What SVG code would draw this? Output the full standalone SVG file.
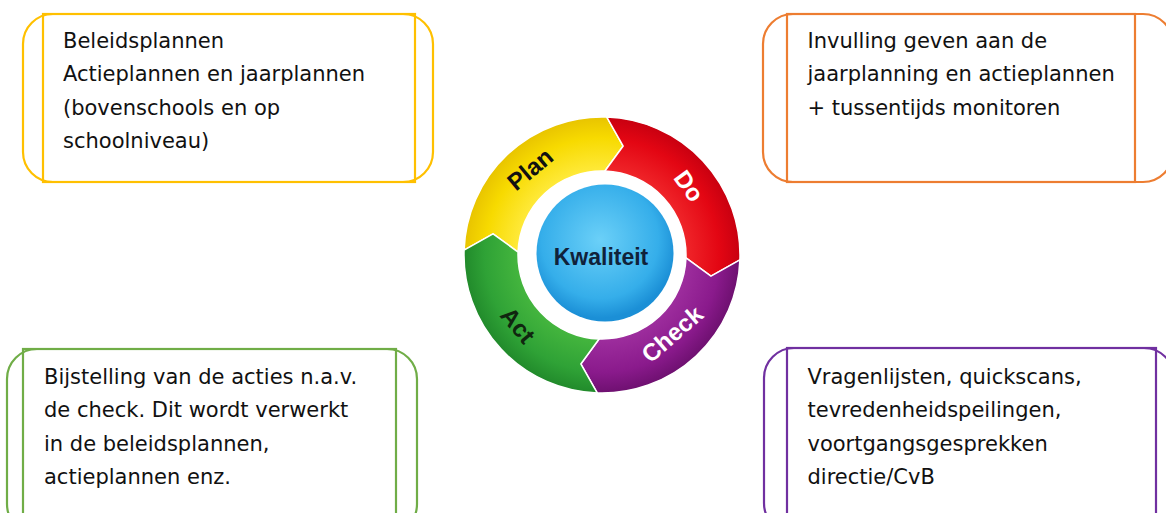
<svg xmlns="http://www.w3.org/2000/svg" width="1166" height="513" viewBox="0 0 1166 513">
<style>
.box{fill:none;stroke-width:2.2}
.t{font-family:"DejaVu Sans",Verdana,sans-serif;font-size:21px;fill:#111}
.lbl{font-family:"Liberation Sans",Arial,sans-serif;font-weight:bold;font-size:24px;text-anchor:middle;dominant-baseline:central}
.seg{stroke:#fff;stroke-width:1.5;stroke-linejoin:round}
</style>
<defs>
<radialGradient id="gy" cx="602" cy="255" r="138" gradientUnits="userSpaceOnUse"><stop offset="0.6" stop-color="#FFEA3C"/><stop offset="0.85" stop-color="#F7DA00"/><stop offset="1" stop-color="#E8C400"/></radialGradient>
<radialGradient id="gr" cx="602" cy="255" r="138" gradientUnits="userSpaceOnUse"><stop offset="0.6" stop-color="#F0262A"/><stop offset="0.85" stop-color="#E30613"/><stop offset="1" stop-color="#C80010"/></radialGradient>
<radialGradient id="gp" cx="602" cy="255" r="138" gradientUnits="userSpaceOnUse"><stop offset="0.6" stop-color="#9E2E9E"/><stop offset="0.85" stop-color="#8A1A8C"/><stop offset="1" stop-color="#6E1070"/></radialGradient>
<radialGradient id="gg" cx="602" cy="255" r="138" gradientUnits="userSpaceOnUse"><stop offset="0.6" stop-color="#45B63E"/><stop offset="0.85" stop-color="#2FA236"/><stop offset="1" stop-color="#218A2B"/></radialGradient>
<radialGradient id="gb" cx="600" cy="240" r="78" gradientUnits="userSpaceOnUse"><stop offset="0" stop-color="#6BD0F8"/><stop offset="0.75" stop-color="#35AEEA"/><stop offset="1" stop-color="#1B8FD6"/></radialGradient>
</defs>

<g id="box-plan">
<rect class="box" x="23" y="14" width="410" height="168" rx="30" stroke="#FFC000"/>
<rect class="box" x="43" y="14" width="372" height="168" stroke="#FFC000"/>
<text class="t" x="63"><tspan x="63" y="47.5">Beleidsplannen</tspan><tspan x="63" y="81">Actieplannen en jaarplannen</tspan><tspan x="63" y="114.5">(bovenschools en op</tspan><tspan x="63" y="148">schoolniveau)</tspan></text>
</g>

<g id="box-do">
<rect class="box" x="763" y="14" width="410" height="168" rx="30" stroke="#ED7D31"/>
<rect class="box" x="787" y="14" width="348" height="168" stroke="#ED7D31"/>
<text class="t"><tspan x="807.5" y="47.5">Invulling geven aan de</tspan><tspan x="807.5" y="81">jaarplanning en actieplannen</tspan><tspan x="807.5" y="114.5">+ tussentijds monitoren</tspan></text>
</g>

<g id="box-act">
<rect class="box" x="7" y="349" width="410" height="185" rx="30" stroke="#70AD47"/>
<rect class="box" x="23" y="349" width="373" height="185" stroke="#70AD47"/>
<text class="t"><tspan x="44" y="383.5">Bijstelling van de acties n.a.v.</tspan><tspan x="44" y="417">de check. Dit wordt verwerkt</tspan><tspan x="44" y="450.5">in de beleidsplannen,</tspan><tspan x="44" y="484">actieplannen enz.</tspan></text>
</g>

<g id="box-check">
<rect class="box" x="764" y="348" width="410" height="185" rx="30" stroke="#7030A0"/>
<rect class="box" x="787" y="348" width="369" height="185" stroke="#7030A0"/>
<text class="t"><tspan x="807.5" y="383.5">Vragenlijsten, quickscans,</tspan><tspan x="807.5" y="417">tevredenheidspeilingen,</tspan><tspan x="807.5" y="450.5">voortgangsgesprekken</tspan><tspan x="807.5" y="484">directie/CvB</tspan></text>
</g>

<g id="cycle">
<path class="seg" fill="url(#gy)" d="M464.08,250.18 A138,138 0 0 1 606.82,117.08 L623.18,146.04 L604.93,171.05 A84,84 0 0 0 518.05,252.07 L493.04,233.82 Z"/>
<path class="seg" fill="url(#gr)" d="M606.82,117.08 A138,138 0 0 1 739.92,259.82 L710.96,276.18 L685.95,257.93 A84,84 0 0 0 604.93,171.05 L623.18,146.04 Z"/>
<path class="seg" fill="url(#gp)" d="M739.92,259.82 A138,138 0 0 1 597.18,392.92 L580.82,363.96 L599.07,338.95 A84,84 0 0 0 685.95,257.93 L710.96,276.18 Z"/>
<path class="seg" fill="url(#gg)" d="M597.18,392.92 A138,138 0 0 1 464.08,250.18 L493.04,233.82 L518.05,252.07 A84,84 0 0 0 599.07,338.95 L580.82,363.96 Z"/>
<circle cx="605" cy="253" r="68.5" fill="url(#gb)"/>
<text class="lbl" x="601" y="257" fill="#10223A" style="font-size:23px">Kwaliteit</text>
<text class="lbl" transform="translate(530,169) rotate(-40)" fill="#111">Plan</text>
<text class="lbl" transform="translate(689,186) rotate(54)" fill="#fff">Do</text>
<text class="lbl" transform="translate(672,334) rotate(-41)" fill="#fff">Check</text>
<text class="lbl" transform="translate(518,325) rotate(50)" fill="#10260F">Act</text>
</g>
</svg>
